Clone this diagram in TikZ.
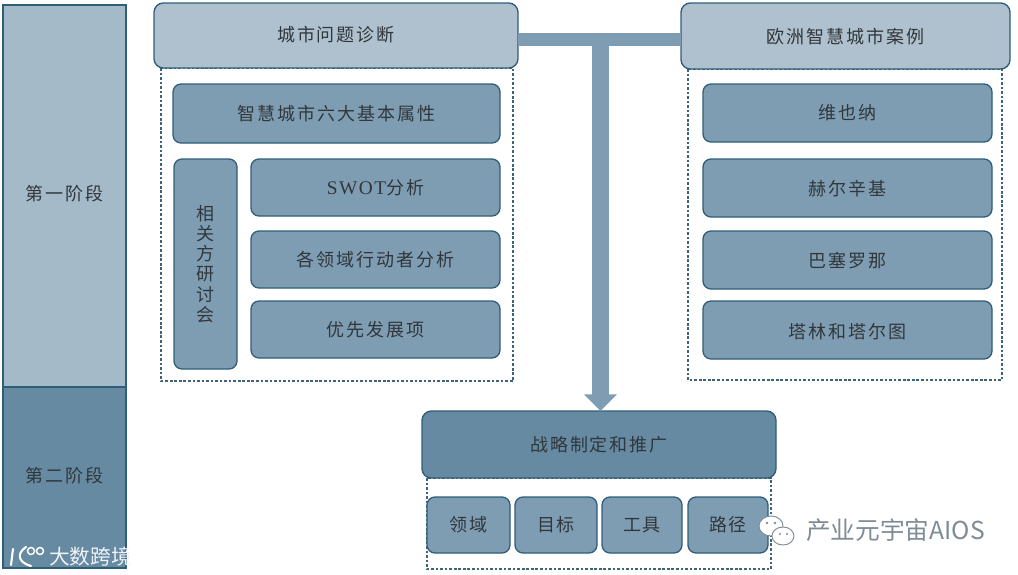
\documentclass[tikz,border=0pt]{standalone}
\usepackage{fontspec}
\usetikzlibrary{arrows.meta}
\setmainfont{Noto Sans CJK SC}[LetterSpace=11]
\newfontfamily\latinserif{Liberation Serif}[LetterSpace=8]
\newfontfamily\wmfont{Noto Sans CJK SC}
\definecolor{edgeC}{HTML}{2F5E78}
\definecolor{hdrC}{HTML}{AFC1CE}
\definecolor{stageA}{HTML}{A5BAC9}
\definecolor{midC}{HTML}{7F9DB2}
\definecolor{darkC}{HTML}{658AA2}
\definecolor{txtC}{HTML}{30373C}
\definecolor{dashC}{HTML}{3F6378}
\definecolor{wmC}{HTML}{7E8C96}
\tikzset{
  x=0.75pt,y=-0.75pt,
  base/.style={draw=edgeC,line width=1pt,text=txtC,inner sep=0pt,outer sep=0pt,font=\fontsize{13.5pt}{15.2pt}\selectfont,align=center},
  hdr/.style={base,fill=hdrC,rounded corners=7pt},
  item/.style={base,fill=midC,rounded corners=6pt},
  strat/.style={base,fill=darkC,rounded corners=7pt},
  stg/.style={base,line width=1.1pt},
  dashframe/.style={draw=dashC,line width=0.8pt,dash pattern=on 2pt off 1.4pt},
  bar/.style={draw=midC,line width=10pt},
  wmark/.style={inner sep=0pt},
}
\newcommand{\bx}[7]{\node[#6,minimum width={(#4-#2)*0.75pt},minimum height={(#5-#3)*0.75pt}] (#1) at ({(#2+#4)/2},{(#3+#5)/2}) {#7};}
\newcommand{\lift}[2]{\raisebox{#1}[\height][\depth]{#2}}
\begin{document}
\begin{tikzpicture}
\useasboundingbox (0,0) rectangle (1018,575);
% dashed frames
\draw[dashframe] (161,68) rectangle (513,381);
\draw[dashframe] (688,69) rectangle (1002,380);
\draw[dashframe] (427,478) rectangle (771,569);
% stages
\bx{s1}{3}{5}{126}{387}{stg,fill=stageA}{\lift{2pt}{第一阶段}}
\bx{s2}{3}{387}{126}{568}{stg,fill=darkC}{\lift{1.5pt}{第二阶段}}
% headers
\bx{h1}{154}{3}{518}{68}{hdr}{\lift{0.7pt}{城市问题诊断}}
\bx{h2}{681}{3}{1010}{69}{hdr}{\lift{-0.7pt}{欧洲智慧城市案例}}
\bx{st}{422}{411}{776}{478}{strat}{战略制定和推广}
% connectors
\coordinate (tj) at (600.5,39.5);
\draw[bar] (h1.east |- tj) -- (h2.west |- tj);
\draw[draw=midC,line width=12.75pt,-{Triangle[width=24pt,length=12.5pt]}] (tj) -- (tj |- st.north);
% left panel
\bx{a1}{173}{84}{500}{143}{item}{智慧城市六大基本属性}
\bx{a2}{174}{159}{237}{369}{item}{相\\关\\方\\研\\讨\\会}
\bx{a3}{251}{159}{500}{216}{item}{{\latinserif\fontsize{14.5pt}{15.2pt}\selectfont SWOT}分析}
\bx{a4}{251}{231}{500}{288}{item}{各领域行动者分析}
\bx{a5}{251}{301}{500}{358}{item}{优先发展项}
% right panel
\bx{b1}{703}{84}{992}{142}{item}{维也纳}
\bx{b2}{703}{159}{992}{217}{item}{\lift{-0.7pt}{赫尔辛基}}
\bx{b3}{703}{231}{992}{289}{item}{\lift{-0.7pt}{巴塞罗那}}
\bx{b4}{703}{301}{992}{359}{item}{\lift{-1.2pt}{塔林和塔尔图}}
% bottom panel
\bx{c1}{427}{497}{510}{553}{item}{领域}
\bx{c2}{515}{497}{597}{553}{item}{目标}
\bx{c3}{602}{497}{682}{553}{item}{工具}
\bx{c4}{688}{497}{768}{553}{item}{路径}
% watermarks
\draw[white,line width=1.6pt,line cap=round] (13,549) -- (11,565) (26,547) .. controls (17,553) and (17,562) .. (31,566);
\draw[white,line width=1.1pt] (31,551) circle (3.5) (40,551) circle (3.5);
\node[wmark,text=white!88!midC,anchor=west,font=\wmfont\fontsize{15.5pt}{15.5pt}\selectfont] (w1) at (49,557) {大数跨境};
\draw[wmC,fill=white,line width=0.7pt] (771,526) ellipse (12 and 10);
\draw[wmC,fill=white,line width=0.7pt] (783,536) ellipse (11 and 9);
\fill[wmC] (767,523) circle (1.3) (775,523) circle (1.3) (780,534) circle (1.1) (787,534) circle (1.1);
\node[wmark,text=wmC,anchor=west,font=\wmfont\fontsize{18.5pt}{18.5pt}\selectfont] (w2) at (806,530) {产业元宇宙AIOS};
\end{tikzpicture}
\end{document}
